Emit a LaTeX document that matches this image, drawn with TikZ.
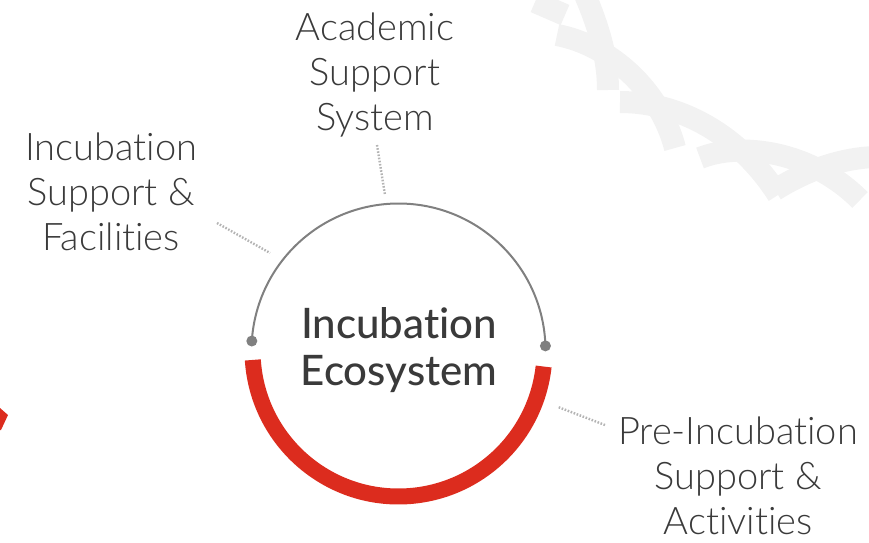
\documentclass[tikz,border=0pt]{standalone}
\usepackage{fontspec}
\setmainfont{Lato Light}[Ligatures={NoCommon,NoRare}]
\newfontfamily\ecofont{Lato Medium}[Ligatures={NoCommon,NoRare}]
\usepackage{tikz}
\usetikzlibrary{positioning}
\definecolor{ecored}{RGB}{220,44,30}
\definecolor{ringgray}{RGB}{128,128,128}
\definecolor{dotline}{RGB}{180,180,180}
\definecolor{swirl}{RGB}{242,242,242}
\definecolor{tagtext}{RGB}{58,58,58}
\tikzset{ringdot/.style = {fill=ringgray, circle, inner sep = 0, minimum size = 11}}
\tikzset{tag/.style = {align=center, anchor=base, inner sep = 0, text=tagtext,
    font=\fontsize{38}{45}\selectfont}}
\tikzset{leader/.style = {dotline, line width=2.4, dash pattern=on 1.6 off 1.6}}
\tikzset{band/.style = {swirl, line width=22}}

\begin{document}
\begin{tikzpicture}[x=1pt, y=1pt]
      \useasboundingbox (0,0) rectangle (869,542);
      % background swirl
      \draw[band] (535,540) -- (565,527);
      \draw[band] (585,547) .. controls (600,512) and (608,482) .. (608,452);
      \draw[band] (557,507) .. controls (610,497) and (660,452) .. (675,394);
      \draw[band] (620,440) .. controls (680,440) and (740,407) .. (778,347);
      \draw[band] (700,384) .. controls (740,400) and (810,392) .. (860,342);
      \draw[band] (775,352) .. controls (810,374) and (845,384) .. (875,385);
      \fill[ecored] (0,134) -- (8,127) -- (1,112) -- (0,112) -- cycle;

      % ring
      \coordinate (hub) at (398.5,191.5);
      \draw[ringgray, line width=2] (hub) ++(1.8:147) arc[start angle=1.8, end angle=176.3, radius=147];
      \node [ringdot] (ldot) at ([shift={(176.3:147)}]hub) {};
      \node [ringdot] (rdot) at ([shift={(1.8:147)}]hub) {};
      \draw[ecored, line width=16] (hub) ++(183.7:146) arc[start angle=183.7, end angle=353.7, radius=146];
      \node [align=center, anchor=base, inner sep=0, text=tagtext,
        font=\ecofont\fontsize{42}{47}\selectfont] (eco) at (399,157) {Incubation\\Ecosystem};

      % labels
      \node [tag] (acad) at (375,411) {Academic\\Support\\System};
      \node [tag] (facil) at (111,292) {Incubation\\Support \&\\Facilities};
      \node [tag] (preinc) at (738,8) {Pre-Incubation\\Support \&\\Activities};
      \coordinate (acad-a) at (377,397);
      \coordinate (acad-b) at (385,347);
      \coordinate (facil-a) at (217,319);
      \coordinate (facil-b) at (270,289);
      \coordinate (preinc-a) at (605,117);
      \coordinate (preinc-b) at (558,135);
      \foreach \n in {acad, facil, preinc} {
        \draw[leader] (\n-a) -- (\n-b);
      }
\end{tikzpicture}
\end{document}
